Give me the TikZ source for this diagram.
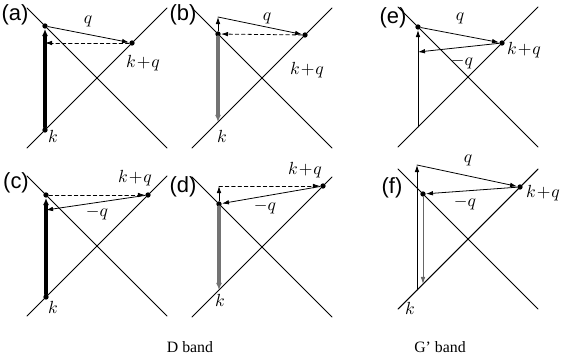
\documentclass[tikz,border=0pt]{standalone}
\usepackage{fontspec}
\setmainfont{Liberation Serif}
\newfontfamily\panelfont{Liberation Sans}
\usetikzlibrary{arrows.meta}
\begin{document}
\begin{tikzpicture}[x=0.02cm,y=-0.02cm,line cap=round,line join=round]
  \tikzset{band/.style={draw=black,line width=0.6pt},
    hop/.style={draw=black,line width=0.45pt,-{Latex[length=4pt,width=2.6pt]}},
    jump/.style={hop,dash pattern=on 2pt off 1.6pt},
    emit/.style={draw=black,line width=1.8pt,-{Latex[length=4pt,width=3.4pt]}},
    dot/.style={circle,fill=black,inner sep=0pt,minimum size=3pt},
    panel/.style={font=\panelfont\fontsize{12.5}{14}\selectfont},
    wave/.style={font=\normalsize}}
  \useasboundingbox (0,0) rectangle (565,355);
  % Linear bands crossing at K and K'
  \foreach \cx/\cy in {97/78,262/78,468/77,97/246,262/247,468/239}{
    \draw[band] (\cx-70,\cy-70) -- (\cx+70,\cy+70);
    \draw[band] (\cx-70,\cy+70) -- (\cx+70,\cy-70);
  }
  % (a) phonon first, defect back-scattering second
  \node[dot] (aT) at (45,26) {};
  \node[dot] (aK) at (45,130) {};
  \node[dot] (aKQ) at (132,43) {};
  \coordinate (aV) at (45,43);
  \draw[hop] (aT) -- (aKQ);
  \draw[jump] (aKQ) -- (aV);
  \draw[emit] (aK) -- (aT);
  \node[panel] (alab) at (15,15) {(a)};
  \node[wave] (aq) at (88,21) {$q$};
  \node[wave] (akq) at (143,63) {$k\!+\!q$};
  \node[wave] (ak) at (53,136) {$k$};
  % (b)
  \node[dot] (bB) at (218,34) {};
  \node[dot] (bKQ) at (305,35) {};
  \coordinate (bA) at (218,17);
  \coordinate (bK) at (218,122);
  \draw[hop] (bA) -- (bKQ);
  \draw[jump] (bKQ) -- (bB);
  \draw[hop] (bB) -- (bA);
  \draw[emit,draw=black!55] (bB) -- (bK);
  \node[panel] (blab) at (183,15) {(b)};
  \node[wave] (bq) at (267,18) {$q$};
  \node[wave] (bkq) at (307,70) {$k\!+\!q$};
  \node[wave] (bk) at (222,136) {$k$};
  % (e) two-phonon, G' band
  \node[dot] (eT) at (418,27) {};
  \coordinate (eK) at (418,127);
  \node[dot] (eKQ) at (502,43) {};
  \coordinate (eV) at (418,52);
  \draw[hop] (eK) -- (eT);
  \draw[hop] (eT) -- (eKQ);
  \draw[hop] (eKQ) -- (eV);
  \node[panel] (elab) at (393,18) {(e)};
  \node[wave] (eq) at (460,18) {$q$};
  \node[wave] (ekq) at (524,50) {$k\!+\!q$};
  \node[wave] (emq) at (462,62) {$-q$};
  % (c) defect first, phonon second
  \node[dot] (cT) at (46,195) {};
  \node[dot] (cK) at (46,297) {};
  \node[dot] (cKQ) at (148,195) {};
  \coordinate (cV) at (46,210);
  \draw[jump] (cT) -- (cKQ);
  \draw[hop] (cKQ) -- (cV);
  \draw[emit] (cK) -- (cT);
  \node[panel] (clab) at (16,183) {(c)};
  \node[wave] (ckq) at (135,178) {$k\!+\!q$};
  \node[wave] (cmq) at (97,213) {$-q$};
  \node[wave] (ck) at (53,307) {$k$};
  % (d)
  \node[dot] (dB) at (219,204) {};
  \coordinate (dA) at (219,186);
  \coordinate (dK) at (219,290);
  \node[dot] (dKQ) at (323,186) {};
  \draw[jump] (dA) -- (dKQ);
  \draw[hop] (dKQ) -- (dB);
  \draw[hop] (dB) -- (dA);
  \draw[emit,draw=black!55] (dB) -- (dK);
  \node[panel] (dlab) at (183,187) {(d)};
  \node[wave] (dkq) at (305,170) {$k\!+\!q$};
  \node[wave] (dmq) at (265,207) {$-q$};
  \node[wave] (dk) at (220,300) {$k$};
  % (f)
  \coordinate (fT) at (417,165);
  \coordinate (fK) at (417,290);
  \node[dot] (fKQ) at (520,187) {};
  \node[dot] (fB) at (423,194) {};
  \coordinate (fK2) at (423,284);
  \draw[hop] (fK) -- (fT);
  \draw[hop] (fT) -- (fKQ);
  \draw[hop] (fKQ) -- (fB);
  \draw[hop,draw=black!60] (fB) -- (fK2);
  \node[panel] (flab) at (392,188) {(f)};
  \node[wave] (fq) at (468,160) {$q$};
  \node[wave] (fkq) at (543,193) {$k\!+\!q$};
  \node[wave] (fmq) at (465,203) {$-q$};
  \node[wave] (fk) at (410,308) {$k$};
  % captions
  \node[font=\small] (dband) at (190,347) {D band};
  \node[font=\small] (gband) at (440,347) {G' band};
\end{tikzpicture}
\end{document}
